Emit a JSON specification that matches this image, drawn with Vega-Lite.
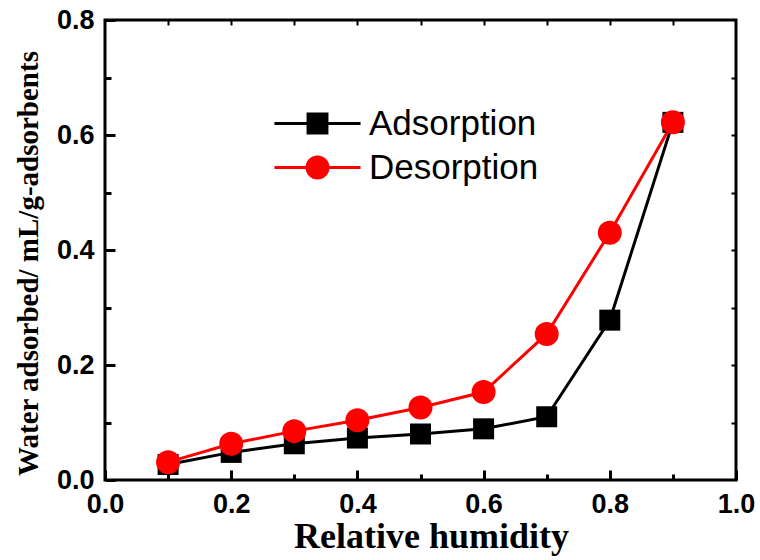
{
  "$schema": "https://vega.github.io/schema/vega-lite/v6.json",
  "autosize": "none",
  "width": 631,
  "height": 460,
  "padding": {"left": 105, "top": 20, "right": 24, "bottom": 80},
  "background": "white",
  "config": {
    "view": {"stroke": "black", "strokeWidth": 3},
    "axis": {"grid": false, "domain": false, "tickColor": "black", "labelColor": "black", "titleColor": "black",
      "labelFont": "Liberation Sans", "labelFontSize": 27, "labelFontWeight": "bold", "labelFlush": false}
  },
  "data": {
    "values": [
      {"rh": 0.1, "water": 0.027, "series": "Adsorption"},
      {"rh": 0.2, "water": 0.048, "series": "Adsorption"},
      {"rh": 0.3, "water": 0.063, "series": "Adsorption"},
      {"rh": 0.4, "water": 0.073, "series": "Adsorption"},
      {"rh": 0.5, "water": 0.080, "series": "Adsorption"},
      {"rh": 0.6, "water": 0.089, "series": "Adsorption"},
      {"rh": 0.7, "water": 0.110, "series": "Adsorption"},
      {"rh": 0.8, "water": 0.278, "series": "Adsorption"},
      {"rh": 0.9, "water": 0.622, "series": "Adsorption"},
      {"rh": 0.1, "water": 0.031, "series": "Desorption"},
      {"rh": 0.2, "water": 0.063, "series": "Desorption"},
      {"rh": 0.3, "water": 0.085, "series": "Desorption"},
      {"rh": 0.4, "water": 0.104, "series": "Desorption"},
      {"rh": 0.5, "water": 0.126, "series": "Desorption"},
      {"rh": 0.6, "water": 0.153, "series": "Desorption"},
      {"rh": 0.7, "water": 0.254, "series": "Desorption"},
      {"rh": 0.8, "water": 0.430, "series": "Desorption"},
      {"rh": 0.9, "water": 0.622, "series": "Desorption"}
    ]
  },
  "resolve": {"axis": {"x": "independent", "y": "independent"}},
  "layer": [
    {
      "mark": {"type": "line", "strokeWidth": 3},
      "encoding": {
        "x": {
          "field": "rh", "type": "quantitative",
          "scale": {"domain": [0, 1], "nice": false},
          "axis": {
            "orient": "bottom", "values": [0, 0.2, 0.4, 0.6, 0.8, 1.0], "format": ".1f",
            "tickSize": -10, "tickWidth": 3, "labelPadding": 21, "labelFlush": false,
            "labelFont": "Liberation Sans", "labelFontSize": 27, "labelFontWeight": "bold",
            "title": "Relative humidity", "titleFont": "Liberation Serif", "titleFontSize": 36, "titleFontWeight": "bold",
            "titleX": 326, "titleY": 67, "titleBaseline": "alphabetic"
          }
        },
        "y": {
          "field": "water", "type": "quantitative",
          "scale": {"domain": [0, 0.8], "nice": false},
          "axis": {
            "orient": "left", "values": [0, 0.2, 0.4, 0.6, 0.8], "format": ".1f",
            "tickSize": -10, "tickWidth": 3, "labelPadding": 21, "labelFlush": false,
            "labelFont": "Liberation Sans", "labelFontSize": 27, "labelFontWeight": "bold",
            "title": "Water adsorbed/ mL/g-adsorbents", "titleFont": "Liberation Serif", "titleFontSize": 29, "titleFontWeight": "bold",
            "titleX": -68, "titleY": 243, "titleBaseline": "alphabetic", "titleAngle": -90
          }
        },
        "color": {
          "field": "series", "type": "nominal",
          "scale": {"domain": ["Adsorption", "Desorption"], "range": ["black", "red"]},
          "legend": {
            "orient": "none", "legendX": 190, "legendY": 81, "title": null,
            "padding": 0, "symbolSize": 1764, "labelOffset": 29, "rowPadding": 3, "labelLimit": 400,
            "labelFont": "Liberation Sans", "labelFontSize": 35, "labelFontWeight": "normal", "labelColor": "black",
            "encode": {
              "symbols": {
                "update": {
                  "shape": {"signal": "datum.value === 'Adsorption' ? 'M-2.05,0H2.05M-0.45,-0.45H0.45V0.45H-0.45Z' : 'M-2.05,0H2.05M0.5,0A0.5,0.5,0,1,1,-0.5,0A0.5,0.5,0,1,1,0.5,0Z'"},
                  "fill": {"signal": "datum.value === 'Adsorption' ? 'black' : 'red'"},
                  "stroke": {"signal": "datum.value === 'Adsorption' ? 'black' : 'red'"},
                  "strokeWidth": {"value": 3},
                  "opacity": {"value": 1},
                  "fillOpacity": {"value": 1}
                }
              }
            }
          }
        }
      }
    },
    {
      "transform": [{"filter": "datum.series === 'Adsorption'"}],
      "mark": {"type": "point", "shape": "square", "filled": true, "size": 441, "color": "black", "opacity": 1},
      "encoding": {
        "x": {"field": "rh", "type": "quantitative", "axis": null},
        "y": {"field": "water", "type": "quantitative", "axis": null}
      }
    },
    {
      "transform": [{"filter": "datum.series === 'Desorption'"}],
      "mark": {"type": "point", "shape": "circle", "filled": true, "size": 576, "color": "red", "opacity": 1},
      "encoding": {
        "x": {"field": "rh", "type": "quantitative", "axis": null},
        "y": {"field": "water", "type": "quantitative", "axis": null}
      }
    },
    {
      "mark": {"type": "point", "opacity": 0},
      "encoding": {
        "x": {"field": "rh", "type": "quantitative",
          "axis": {"orient": "bottom", "values": [0.1, 0.3, 0.5, 0.7, 0.9], "labels": false, "tickSize": -6, "tickWidth": 3, "title": null}},
        "y": {"field": "water", "type": "quantitative",
          "axis": {"orient": "left", "values": [0.1, 0.3, 0.5, 0.7], "labels": false, "tickSize": -6, "tickWidth": 3, "title": null}}
      }
    },
    {
      "mark": {"type": "point", "opacity": 0},
      "encoding": {
        "x": {"field": "rh", "type": "quantitative",
          "axis": {"orient": "top", "values": [0.1, 0.2, 0.3, 0.4, 0.5, 0.6, 0.7, 0.8, 0.9], "labels": false, "tickSize": -5, "tickWidth": 2, "title": null}},
        "y": {"field": "water", "type": "quantitative",
          "axis": {"orient": "right", "values": [0.1, 0.2, 0.3, 0.4, 0.5, 0.6, 0.7], "labels": false, "tickSize": -5, "tickWidth": 2, "title": null}}
      }
    }
  ]
}
